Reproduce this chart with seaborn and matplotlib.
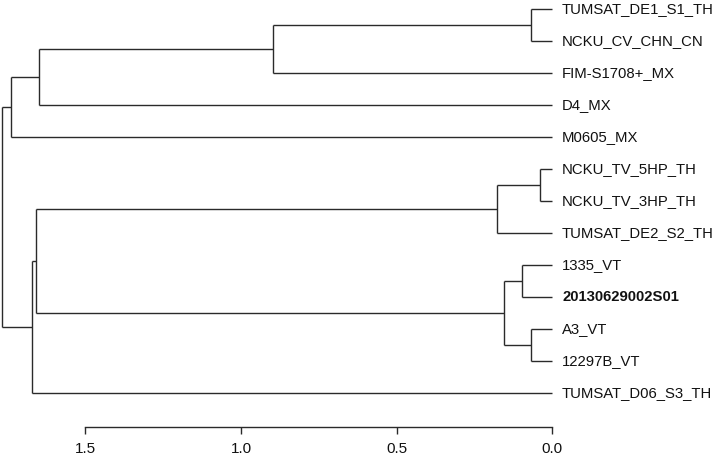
import matplotlib
matplotlib.use('Agg')
import matplotlib.pyplot as plt
import seaborn as sns

# leaf order, top to bottom
leaves = ['TUMSAT_DE1_S1_TH', 'NCKU_CV_CHN_CN', 'FIM-S1708+_MX', 'D4_MX', 'M0605_MX',
          'NCKU_TV_5HP_TH', 'NCKU_TV_3HP_TH', 'TUMSAT_DE2_S2_TH', '1335_VT',
          '20130629002S01', 'A3_VT', '12297B_VT', 'TUMSAT_D06_S3_TH']
bold_leaves = ['20130629002S01']

# internal nodes (merge order), children and merge heights
node_names = ['n1', 'n2', 'n3', 'n4', 'n5', 'n6', 'n7', 'n8', 'n9', 'n10', 'n11', 'root']
left_child = ['TUMSAT_DE1_S1_TH', 'n1', 'n2', 'n3', 'NCKU_TV_5HP_TH', 'n5', '1335_VT',
              'A3_VT', 'n7', 'n6', 'n10', 'n4']
right_child = ['NCKU_CV_CHN_CN', 'FIM-S1708+_MX', 'D4_MX', 'M0605_MX', 'NCKU_TV_3HP_TH',
               'TUMSAT_DE2_S2_TH', '20130629002S01', '12297B_VT', 'n8', 'n9',
               'TUMSAT_D06_S3_TH', 'n11']
node_height = [0.069, 0.896, 1.649, 1.739, 0.040, 0.177, 0.098, 0.069, 0.155, 1.659, 1.671, 1.768]

scale_ticks = [1.5, 1.0, 0.5, 0.0]

sns.set_style('white')
plt.rcParams['font.family'] = ['Liberation Sans', 'DejaVu Sans']

fig = plt.figure(figsize=(7.14, 4.59), dpi=100)
ax = fig.add_axes([0, 0, 1, 1])

# positions of every node
xpos = {name: 0.0 for name in leaves}
ypos = {name: i for i, name in enumerate(leaves)}
for name, l, r, h in zip(node_names, left_child, right_child, node_height):
    xpos[name] = h
    ypos[name] = (ypos[l] + ypos[r]) / 2

line_kw = dict(color='#2a2a2a', lw=1.0, solid_capstyle='butt')
for name, l, r, h in zip(node_names, left_child, right_child, node_height):
    ax.plot([h, h], [ypos[l], ypos[r]], **line_kw)
    for c in (l, r):
        ax.plot([h, xpos[c]], [ypos[c], ypos[c]], **line_kw)

for name in leaves:
    weight = 'bold' if name in bold_leaves else 'normal'
    ax.text(-0.031, ypos[name], name, ha='left', va='center', fontsize=10.7,
            fontweight=weight, color='#111111')

ax.set_xlim(1.774, -0.519)
ax.set_ylim(14.06, -0.297)

# scale axis at the bottom
for side in ['top', 'left', 'right']:
    ax.spines[side].set_visible(False)
ax.spines['bottom'].set_position(('data', 13.06))
ax.spines['bottom'].set_bounds(0, 1.5)
ax.spines['bottom'].set_color('#2a2a2a')
ax.spines['bottom'].set_linewidth(1.0)
ax.set_xticks(scale_ticks)
ax.set_xticklabels(['%.1f' % t for t in scale_ticks])
ax.tick_params(axis='x', direction='out', length=5, width=1.0, color='#2a2a2a',
               pad=6, labelsize=11, labelcolor='#111111', bottom=True)
ax.set_yticks([])

fig.savefig('out.png', dpi=100)
